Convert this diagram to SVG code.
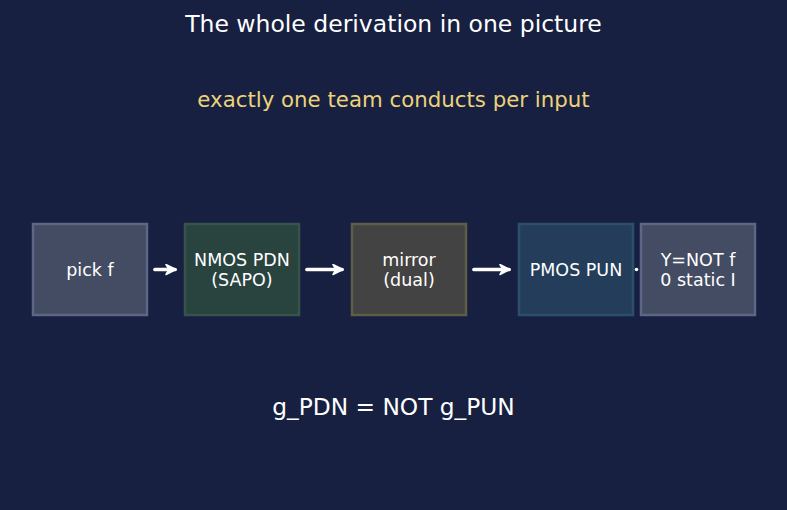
<svg xmlns="http://www.w3.org/2000/svg" width="787" height="510" viewBox="0 0 787 510">
<defs>
<style>
text{font-family:"DejaVu Sans","Liberation Sans",sans-serif;text-anchor:middle;fill:#ffffff}
.box{stroke-width:2.5}
.lbl{font-size:17.5px}
.conn{stroke:#ffffff;stroke-width:3.7;fill:none;stroke-linecap:round;marker-end:url(#ah)}
</style>
<marker id="ah" viewBox="0 0 12 12" refX="10" refY="6" markerWidth="12" markerHeight="12" orient="auto" markerUnits="userSpaceOnUse">
<path d="M1,1 L11,6 L1,11 L4,6 z" fill="#ffffff" stroke="#ffffff" stroke-width="1.5" stroke-linejoin="round"/>
</marker>
</defs>
<rect width="787" height="510" fill="#172040"/>
<text x="393.500" y="32" font-size="23.5">The whole derivation in one picture</text>
<text x="393.500" y="107" font-size="21.3" style="fill:#ecd27a">exactly one team conducts per input</text>
<g id="n1"><rect class="box" x="33" y="224" width="114" height="91" fill="#434c63" stroke="#5d6685"/><text class="lbl" x="90" y="275.500">pick f</text></g>
<g id="n2"><rect class="box" x="185" y="224" width="114" height="91" fill="#29433f" stroke="#36544b"/><text class="lbl" x="242" y="265.500">NMOS PDN</text><text class="lbl" x="242" y="285.500">(SAPO)</text></g>
<g id="n3"><rect class="box" x="352" y="224" width="114" height="91" fill="#434343" stroke="#5e5d45"/><text class="lbl" x="409" y="265.500">mirror</text><text class="lbl" x="409" y="285.500">(dual)</text></g>
<g id="n4"><rect class="box" x="519" y="224" width="114" height="91" fill="#243d5a" stroke="#2c4f6e"/><text class="lbl" x="576" y="275.500">PMOS PUN</text></g>
<g id="n5"><rect class="box" x="641" y="224" width="114" height="91" fill="#434c63" stroke="#5d6685"/><text class="lbl" x="698" y="265.500">Y=NOT f</text><text class="lbl" x="698" y="285.500">0 static I</text></g>
<g id="connectors">
<line class="conn" x1="155" y1="269.500" x2="175" y2="269.500"/>
<line class="conn" x1="307" y1="269.500" x2="342" y2="269.500"/>
<line class="conn" x1="474" y1="269.500" x2="509" y2="269.500"/>
<circle cx="636.500" cy="269.500" r="1.800" fill="#ffffff"/>
</g>
<text x="393.500" y="415" font-size="23.3">g_PDN = NOT g_PUN</text>
</svg>
